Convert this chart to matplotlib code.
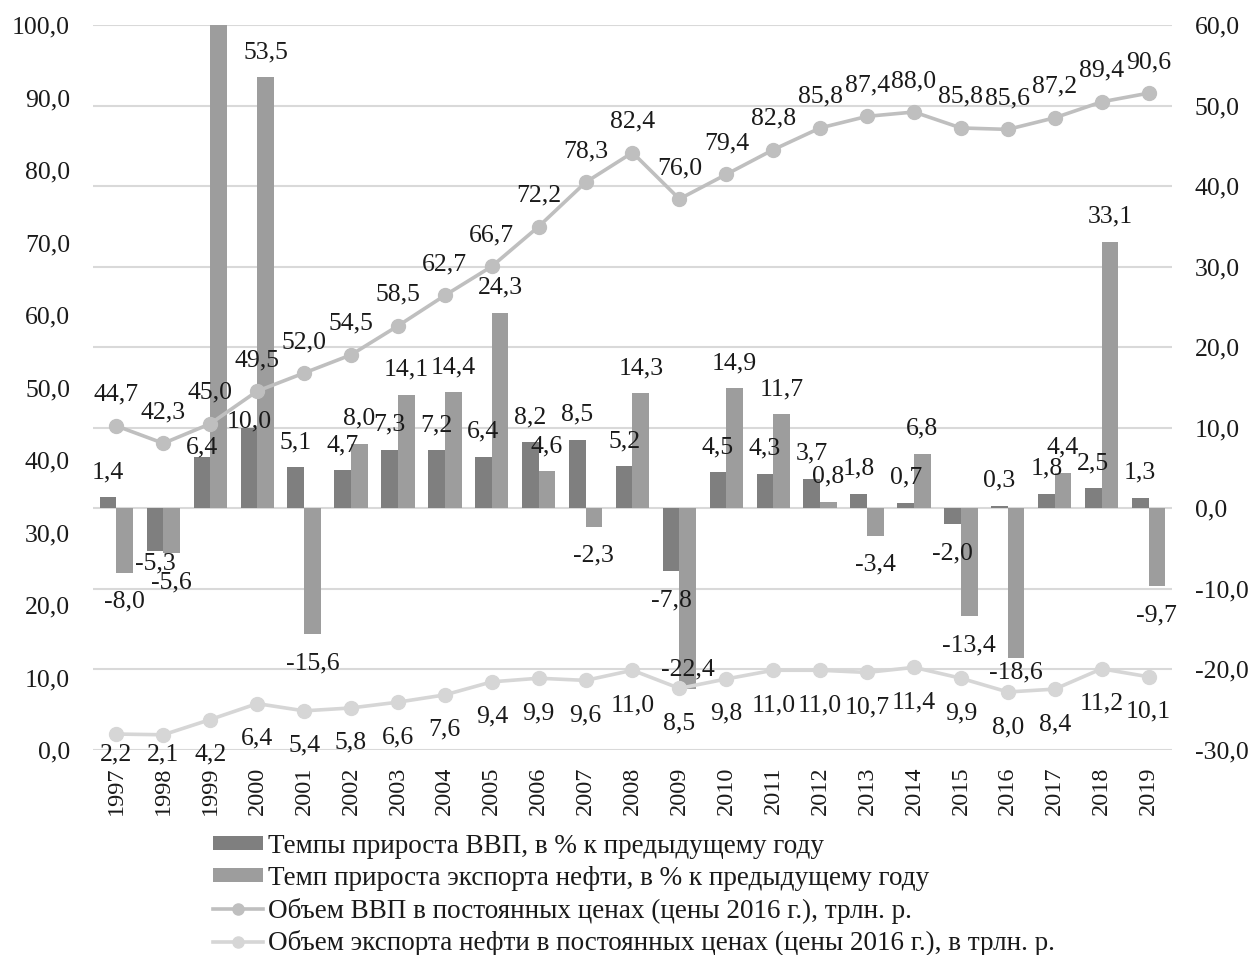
import matplotlib
matplotlib.use("Agg")
import matplotlib.pyplot as plt
from matplotlib.lines import Line2D
from matplotlib.patches import Patch

plt.rcParams['font.family'] = ['Liberation Serif', 'DejaVu Serif']

years = [str(y) for y in range(1997, 2020)]
gdp_growth = [1.4, -5.3, 6.4, 10.0, 5.1, 4.7, 7.3, 7.2, 6.4, 8.2, 8.5, 5.2, -7.8,
              4.5, 4.3, 3.7, 1.8, 0.7, -2.0, 0.3, 1.8, 2.5, 1.3]
oil_growth = [-8.0, -5.6, 70.0, 53.5, -15.6, 8.0, 14.1, 14.4, 24.3, 4.6, -2.3, 14.3, -22.4,
              14.9, 11.7, 0.8, -3.4, 6.8, -13.4, -18.6, 4.4, 33.1, -9.7]
gdp_volume = [44.7, 42.3, 45.0, 49.5, 52.0, 54.5, 58.5, 62.7, 66.7, 72.2, 78.3, 82.4, 76.0,
              79.4, 82.8, 85.8, 87.4, 88.0, 85.8, 85.6, 87.2, 89.4, 90.6]
oil_volume = [2.2, 2.1, 4.2, 6.4, 5.4, 5.8, 6.6, 7.6, 9.4, 9.9, 9.6, 11.0, 8.5,
              9.8, 11.0, 11.0, 10.7, 11.4, 9.9, 8.0, 8.4, 11.2, 10.1]

legend_labels = [
    "Темпы прироста ВВП, в % к предыдущему году",
    "Темп прироста экспорта нефти, в % к предыдущему году",
    "Объем ВВП в постоянных ценах (цены 2016 г.), трлн. р.",
    "Объем экспорта нефти в постоянных ценах (цены 2016 г.), в трлн. р.",
]

C_GDP_BAR = "#7f7f7f"
C_OIL_BAR = "#9d9d9d"
C_GDP_LINE = "#bfbfbf"
C_OIL_LINE = "#d6d6d6"
C_GRID = "#d9d9d9"
C_TEXT = "#1a1a1a"
FS = 18.5
FS_YEAR = 17.5
FS_LEG = 19.5

fig = plt.figure(figsize=(12.52, 9.55), dpi=100)
ax_bar = fig.add_axes([93/1252, 1-750/955, (1172-93)/1252, 725/955])
ax_line = ax_bar.twinx()

x = list(range(len(years)))
w = 0.355

ax_bar.bar([i - w/2 for i in x], gdp_growth, width=w, color=C_GDP_BAR, zorder=2)
ax_bar.bar([i + w/2 for i in x], oil_growth, width=w, color=C_OIL_BAR, zorder=2)
ax_bar.set_ylim(-30, 60)
ax_bar.set_yticks(range(-30, 61, 10))
ax_bar.set_yticklabels([f"{v:.1f}".replace('.', ',') for v in range(-30, 61, 10)])
ax_bar.yaxis.tick_right()
ax_bar.grid(axis='y', color=C_GRID, linewidth=1.5, zorder=0)
ax_bar.set_axisbelow(True)
ax_bar.set_xlim(-0.5, len(years) - 0.5)
ax_bar.set_xticks(x)
ax_bar.set_xticklabels(years, rotation=90)

ax_line.plot(x, gdp_volume, color=C_GDP_LINE, lw=2.6, marker='o', ms=10, zorder=3)
ax_line.plot(x, oil_volume, color=C_OIL_LINE, lw=2.6, marker='o', ms=10, zorder=3)
ax_line.set_ylim(0, 100)
ax_line.set_yticks(range(0, 101, 10))
ax_line.set_yticklabels([f"{v:.1f}".replace('.', ',') for v in range(0, 101, 10)])
ax_line.yaxis.tick_left()

for a in (ax_bar, ax_line):
    for s in a.spines.values():
        s.set_visible(False)
    a.tick_params(length=0, labelsize=FS, colors=C_TEXT)
ax_bar.tick_params(axis='y', pad=16.5)
ax_line.tick_params(axis='y', pad=16.5)
ax_bar.tick_params(axis='x', pad=12, labelsize=FS_YEAR)


def fmt(v):
    return f"{v:.1f}".replace('.', ',')


def put(xc, v, dy, trans):
    ax_line.annotate(fmt(v), xy=(xc, v), xycoords=trans,
                     xytext=(0, dy), textcoords='offset pixels',
                     ha='center', va='center', fontsize=FS, color=C_TEXT, zorder=5,
                     annotation_clip=False)


# bar label offsets in pixels: defaults plus manual shifts seen in the reference
gdp_bar_shift = {1: 17, 2: -16, 3: -19}
oil_bar_shift = {12: 48, 19: 15}

for i, v in enumerate(gdp_growth):
    dy = (25 if v >= 0 else -29) + gdp_bar_shift.get(i, 0)
    put(i - w/2, v, dy, ax_bar.transData)

for i, v in enumerate(oil_growth):
    if v > 60:
        continue
    dy = (25 if v >= 0 else -29) + oil_bar_shift.get(i, 0)
    put(i + w/2, v, dy, ax_bar.transData)

for i, v in enumerate(gdp_volume):
    put(i, v, 31, ax_line.transData)

for i, v in enumerate(oil_volume):
    put(i, v, -min(35, 4 + 7.25 * v), ax_line.transData)

handles = [
    Patch(facecolor=C_GDP_BAR, edgecolor='none'),
    Patch(facecolor=C_OIL_BAR, edgecolor='none'),
    Line2D([], [], color=C_GDP_LINE, lw=2.6, marker='o', ms=8),
    Line2D([], [], color=C_OIL_LINE, lw=2.6, marker='o', ms=8),
]
leg = fig.legend(handles, legend_labels, loc='upper left',
                 bbox_to_anchor=(213/1252, 1-834/955), frameon=False,
                 fontsize=FS_LEG, handlelength=1.85, handleheight=0.4,
                 handletextpad=0.18, labelspacing=0.25, borderpad=0, borderaxespad=0)
for t in leg.get_texts():
    t.set_color(C_TEXT)

fig.savefig("out.png", dpi=100)
